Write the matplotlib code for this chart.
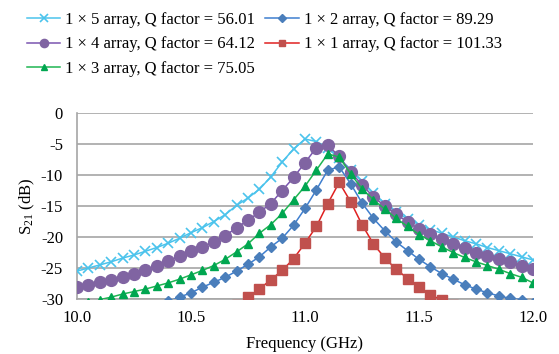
import matplotlib
matplotlib.use('Agg')
import matplotlib.pyplot as plt
import numpy as np

plt.rcParams['font.family'] = 'Liberation Serif'
plt.rcParams['mathtext.fontset'] = 'custom'
plt.rcParams['mathtext.rm'] = 'Liberation Serif'
plt.rcParams['mathtext.it'] = 'Liberation Serif:italic'

nan = np.nan

# frequency points (GHz), 0.05 GHz step
freq = np.round(np.arange(10.0, 12.0001, 0.05), 2)

s21_1x5 = [-25.5, -25.0, -24.5, -24.0, -23.4, -22.9, -22.3, -21.7, -21.0, -20.2,
           -19.3, -18.5, -17.5, -16.4, -14.9, -13.7, -12.3, -10.3, -7.9, -5.8,
           -4.2, -4.6, -5.6, -7.3, -9.2, -11.0, -12.9, -14.6, -16.0, -17.1,
           -18.0, -18.8, -19.4, -20.0, -20.6, -21.1, -21.7, -22.2, -22.7, -23.2,
           -23.7]
s21_1x4 = [-28.1, -27.7, -27.3, -26.9, -26.4, -25.9, -25.3, -24.6, -23.9, -23.1,
           -22.3, -21.6, -20.8, -19.8, -18.5, -17.3, -16.0, -14.6, -12.5, -10.4,
           -8.0, -5.6, -5.2, -7.0, -9.5, -11.6, -13.5, -15.0, -16.3, -17.6,
           -18.7, -19.5, -20.4, -21.1, -21.8, -22.5, -23.1, -23.6, -24.1, -24.7,
           -25.2]
s21_1x3 = [-30.9, -30.5, -30.1, -29.7, -29.2, -28.8, -28.4, -27.9, -27.4, -26.8,
           -26.1, -25.4, -24.6, -23.6, -22.4, -21.1, -19.4, -18.0, -16.2, -14.0,
           -11.8, -9.2, -6.6, -7.1, -9.8, -12.2, -14.0, -15.5, -17.0, -18.3,
           -19.6, -20.6, -21.6, -22.5, -23.3, -24.0, -24.6, -25.2, -25.9, -26.5,
           -27.4]
s21_1x2 = [-34.0, -33.6, -33.2, -32.8, -32.3, -31.9, -31.4, -30.9, -30.4, -29.7,
           -29.0, -28.1, -27.3, -26.5, -25.5, -24.4, -23.2, -21.6, -20.2, -18.1,
           -15.4, -12.4, -9.2, -8.7, -11.4, -14.5, -17.0, -19.0, -20.8, -22.2,
           -23.6, -24.8, -25.9, -26.8, -27.7, -28.4, -29.0, -29.5, -29.9, -30.1,
           -30.6]
s21_1x1 = [nan, nan, nan, nan, nan, nan, nan, nan, nan, nan,
           nan, nan, nan, nan, -31.0, -29.7, -28.4, -26.9, -25.4, -23.5,
           -21.0, -18.3, -14.6, -11.2, -14.3, -18.0, -21.1, -23.4, -25.2, -26.7,
           -28.0, -29.4, -30.1, -31.0, nan, nan, nan, nan, nan, nan,
           nan]

labels = ['1 × 5 array, Q factor = 56.01',
          '1 × 2 array, Q factor = 89.29',
          '1 × 4 array, Q factor = 64.12',
          '1 × 1 array, Q factor = 101.33',
          '1 × 3 array, Q factor = 75.05']

xticks = [10.0, 10.5, 11.0, 11.5, 12.0]
yticks = [-30, -25, -20, -15, -10, -5, 0]

fig = plt.figure(figsize=(5.59, 3.54), dpi=100)
ax = fig.add_axes([77 / 559, 1 - 299 / 354, 456 / 559, 186 / 354])

h5, = ax.plot(freq, s21_1x5, color='#4bc3ec', lw=1.1, marker='x', ms=7.5, mew=1.2,
              label=labels[0], zorder=3)
h2, = ax.plot(freq, s21_1x2, color='#3f7fcf', lw=1.1, marker='D', ms=5.5,
              mfc='#4a7ebb', mec='#4a7ebb', label=labels[1], zorder=4)
h4, = ax.plot(freq, s21_1x4, color='#7a55b0', lw=1.1, marker='o', ms=8.5,
              mfc='#8064a2', mec='#8064a2', label=labels[2], zorder=5)
h1, = ax.plot(freq, s21_1x1, color='#e02020', lw=1.1, marker='s', ms=7,
              mfc='#c0504d', mec='#c0504d', label=labels[3], zorder=6)
h3, = ax.plot(freq, s21_1x3, color='#1fb552', lw=1.1, marker='^', ms=6,
              mfc='#00a650', mec='#00a650', label=labels[4], zorder=7)

ax.set_xlim(10.0, 12.0)
ax.set_ylim(-30, 0)
ax.set_xticks(xticks)
ax.set_xticklabels([f'{v:.1f}' for v in xticks])
ax.set_yticks(yticks)
ax.set_yticklabels([str(v) for v in yticks])  # plain hyphen like the original
ax.tick_params(length=0, labelsize=12)
ax.tick_params(axis='x', pad=8)
ax.tick_params(axis='y', pad=10)
ax.grid(axis='y', color='#a6a6a6', lw=1.2)
ax.set_axisbelow(True)
for s in ['top', 'right']:
    ax.spines[s].set_visible(False)
for s in ['left', 'bottom']:
    ax.spines[s].set_color('#a6a6a6')
    ax.spines[s].set_linewidth(1.2)

ax.set_xlabel('Frequency (GHz)', fontsize=12)
ax.xaxis.set_label_coords(0.5, -(336 - 299) / 186)
ax.set_ylabel('S$_{21}$ (dB)', fontsize=12)
ax.yaxis.set_label_coords(-(77 - 37) / 456, 0.5)

fig.legend([h5, h4, h3, h2, h1], [labels[0], labels[2], labels[4], labels[1], labels[3]],
           ncol=2, loc='upper left', bbox_to_anchor=(27 / 559, 0.966), frameon=False,
           fontsize=12, handlelength=2.0, handletextpad=0.3, columnspacing=0.6,
           labelspacing=0.5, borderpad=0, borderaxespad=0, markerscale=0.7)

plt.savefig('out.png', dpi=100)
